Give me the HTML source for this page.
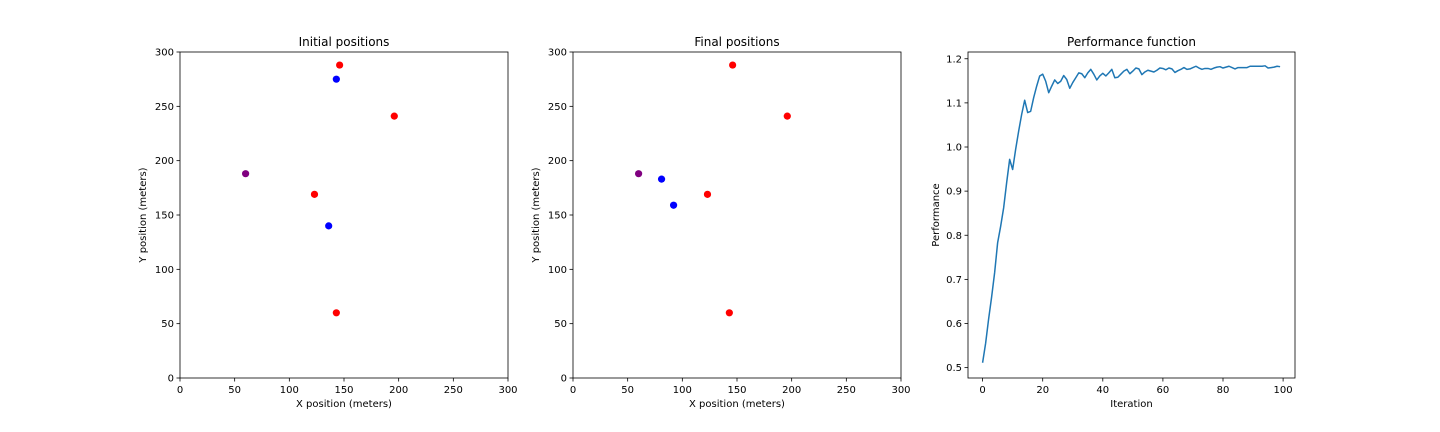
<!DOCTYPE html>
<html><head><meta charset="utf-8"><style>
html,body{margin:0;padding:0;background:#fff;}
svg{display:block;font-family:"DejaVu Sans","Liberation Sans",sans-serif;}
</style></head><body>
<svg id="fig" width="1440" height="432" viewBox="0 0 1440 432"></svg>
<script>
const initRedX=[146,196,123,143];
const initRedY=[288,241,169,60];
const initBlueX=[143,136];
const initBlueY=[275,140];
const finalRedX=[146,196,123,143];
const finalRedY=[288,241,169,60];
const finalBlueX=[81,92];
const finalBlueY=[183,159];
const purpleX=[60];
const purpleY=[188];
const posTicks=[0,50,100,150,200,250,300];
const perfValues=[0.511,0.555,0.61,0.66,0.715,0.783,0.82,0.862,0.919,0.972,0.949,0.995,1.036,1.074,1.106,1.078,1.081,1.112,1.138,1.161,1.165,1.149,1.123,1.138,1.152,1.144,1.149,1.162,1.153,1.133,1.146,1.157,1.168,1.166,1.157,1.168,1.176,1.165,1.152,1.161,1.167,1.161,1.168,1.176,1.157,1.158,1.165,1.172,1.176,1.166,1.172,1.179,1.177,1.164,1.170,1.174,1.172,1.170,1.174,1.179,1.178,1.175,1.179,1.177,1.169,1.173,1.176,1.180,1.176,1.177,1.180,1.183,1.179,1.176,1.178,1.178,1.176,1.179,1.181,1.182,1.179,1.181,1.183,1.180,1.177,1.180,1.180,1.180,1.180,1.183,1.183,1.183,1.183,1.183,1.184,1.179,1.180,1.181,1.183,1.182];
const perfXTicks=[0,20,40,60,80,100];
const perfYTicks=[0.5,0.6,0.7,0.8,0.9,1.0,1.1,1.2];

const NS="http://www.w3.org/2000/svg";
const svg=document.getElementById('fig');
function mk(tag,attrs,parent){const e=document.createElementNS(NS,tag);for(const k in attrs)e.setAttribute(k,attrs[k]);(parent||svg).appendChild(e);return e;}
function txt(s,attrs,parent){const e=mk('text',attrs,parent);e.textContent=s;return e;}

function axes(name,L,R,T,B,xmin,xmax,ymin,ymax,xt,yt,title,xl,yl,fmtY,ylOff){
  const g=mk('g',{});
  
  
  const sx=v=>L+(v-xmin)/(xmax-xmin)*(R-L);
  const sy=v=>B-(v-ymin)/(ymax-ymin)*(B-T);
  xt.forEach(v=>{const x=sx(v);mk('line',{x1:x,x2:x,y1:B,y2:B+3.5,stroke:'#000','stroke-width':0.8},g);
    const t=txt(String(v),{x:x,y:B+15,'font-size':10,'text-anchor':'middle',fill:'#000'},g);
    });
  yt.forEach(v=>{const y=sy(v);mk('line',{x1:L-3.5,x2:L,y1:y,y2:y,stroke:'#000','stroke-width':0.8},g);
    const t=txt(fmtY?fmtY(v):String(v),{x:L-6,y:y+3.5,'font-size':10,'text-anchor':'end',fill:'#000'},g);
    });
  const tt=txt(title,{x:(L+R)/2,y:T-6,'font-size':12,'text-anchor':'middle',fill:'#000'},g);
  
  const xa=txt(xl,{x:(L+R)/2,y:B+29,'font-size':10,'text-anchor':'middle',fill:'#000'},g);
  
  const cy=(T+B)/2,cx=L-ylOff;
  const ya=txt(yl,{x:cx,y:cy,'font-size':10,'text-anchor':'middle',fill:'#000',transform:`rotate(-90 ${cx} ${cy})`},g);
  
  return {g,sx,sy,frame:()=>mk('rect',{x:L,y:T,width:R-L,height:B-T,fill:'none',stroke:'#000','stroke-width':0.8},g)};
}
function dots(ax,xs,ys,color,name){
  xs.forEach((v,i)=>{const c=mk('circle',{cx:ax.sx(v),cy:ax.sy(ys[i]),r:3.6,fill:color},ax.g);
    });
}
const a1=axes('initial-positions-chart',180,508,52,378,0,300,0,300,posTicks,posTicks,'Initial positions','X position (meters)','Y position (meters)',null,34);
dots(a1,initRedX,initRedY,'#ff0000','red-point');
dots(a1,initBlueX,initBlueY,'#0000ff','blue-point');
dots(a1,purpleX,purpleY,'#800080','purple-point');
a1.frame();
const a2=axes('final-positions-chart',573,901,52,378,0,300,0,300,posTicks,posTicks,'Final positions','X position (meters)','Y position (meters)',null,34);
dots(a2,finalRedX,finalRedY,'#ff0000','red-point');
dots(a2,finalBlueX,finalBlueY,'#0000ff','blue-point');
dots(a2,purpleX,purpleY,'#800080','purple-point');
a2.frame();
const pL=968,pR=1295,pT=52,pB=378;
const a3=axes('performance-chart',pL,pR,pT,pB,-4.86,103.96,0.4765,1.2153,perfXTicks,perfYTicks,'Performance function','Iteration','Performance',v=>v.toFixed(1),29);
const pts=perfValues.map((v,i)=>a3.sx(i).toFixed(2)+','+a3.sy(v).toFixed(2)).join(' ');
const pl=mk('polyline',{points:pts,fill:'none',stroke:'#1f77b4','stroke-width':1.5,'stroke-linejoin':'round'},a3.g);


a3.frame();
</script>
</body></html>
